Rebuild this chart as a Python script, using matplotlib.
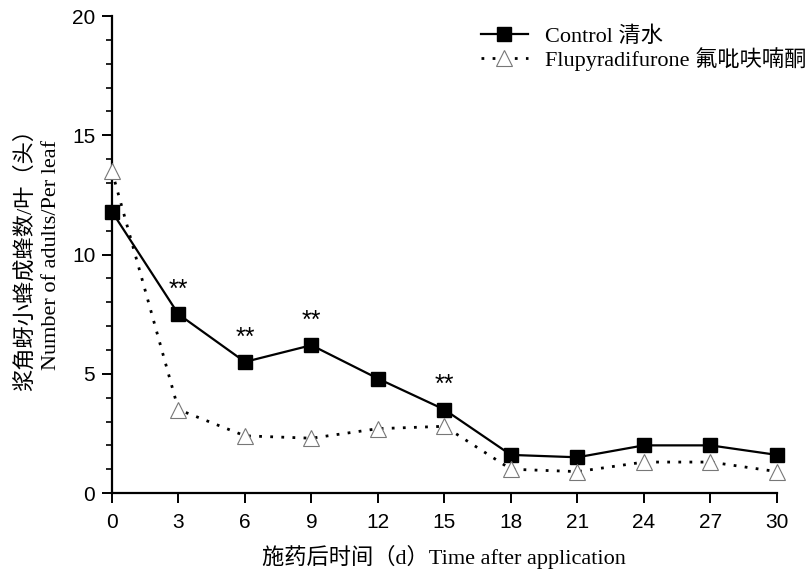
import matplotlib
matplotlib.use("Agg")
import matplotlib.pyplot as plt
from matplotlib.ticker import MultipleLocator

# data
days = [0, 3, 6, 9, 12, 15, 18, 21, 24, 27, 30]
control = [11.8, 7.5, 5.5, 6.2, 4.8, 3.5, 1.6, 1.5, 2.0, 2.0, 1.6]
flupy = [13.5, 3.5, 2.4, 2.3, 2.7, 2.8, 1.0, 0.9, 1.3, 1.3, 0.9]
sig_days = [3, 6, 9, 15]

serif = ['Liberation Serif', 'Noto Sans CJK SC']
sans = ['Liberation Sans', 'DejaVu Sans']

fig = plt.figure(figsize=(8.11, 5.74), dpi=100)
ax = fig.add_axes([0.138, 0.141, 0.82, 0.831])

ax.plot(days, control, color='black', lw=1.6, marker='s', ms=10,
        mfc='black', mec='black', label='Control 清水', clip_on=False, zorder=3)
ax.plot(days, flupy, color='black', lw=2, ls=(0, (1, 3)), marker='^', ms=11,
        mfc='white', mec='#777777', mew=0.8, label='Flupyradifurone 氟吡呋喃酮',
        clip_on=False, zorder=3)

# significance marks
for d in sig_days:
    v = control[days.index(d)]
    ax.annotate('**', (d, v), xytext=(0, 9), textcoords='offset points',
                ha='center', va='bottom', fontsize=18, family=sans)

ax.set_xlim(0, 30)
ax.set_ylim(0, 20)
ax.xaxis.set_major_locator(MultipleLocator(3))
ax.yaxis.set_major_locator(MultipleLocator(5))
ax.yaxis.set_minor_locator(MultipleLocator(1))

for s in ['top', 'right']:
    ax.spines[s].set_visible(False)
for s in ['left', 'bottom']:
    ax.spines[s].set_linewidth(1.6)

ax.tick_params(which='major', direction='out', length=7, width=1.4, labelsize=15)
ax.tick_params(which='minor', direction='out', length=4, width=1.2)
ax.tick_params(axis='x', pad=7)
ax.tick_params(axis='y', pad=5)
for lab in ax.get_xticklabels() + ax.get_yticklabels():
    lab.set_family(sans)

ax.set_xlabel('施药后时间（d）Time after application', fontsize=16,
              family=serif, labelpad=10)
ax.set_ylabel('浆角蚜小蜂成蜂数/叶（头）\nNumber of adults/Per leaf',
              fontsize=16, family=serif, labelpad=8, linespacing=1.45)

leg = ax.legend(loc='upper right', bbox_to_anchor=(1.075, 1.02), frameon=False,
                prop={'family': serif, 'size': 16}, handlelength=2.1,
                handletextpad=0.8, labelspacing=0.0)

fig.savefig('out.png', dpi=100)
